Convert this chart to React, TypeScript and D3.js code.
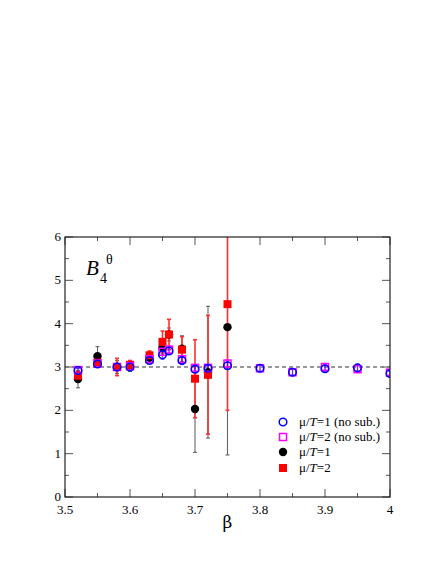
import React, { useRef, useEffect } from 'react';
import * as d3 from 'd3';

const betaA = [3.52, 3.55, 3.58, 3.6, 3.63, 3.65, 3.66, 3.68, 3.7, 3.72, 3.75];
const betaB = [3.52, 3.55, 3.58, 3.6, 3.63, 3.65, 3.66, 3.68, 3.7, 3.72, 3.75, 3.8, 3.85, 3.9, 3.95, 4.0];

const blueVal = [2.92, 3.07, 3.0, 3.0, 3.15, 3.28, 3.37, 3.15, 2.95, 2.97, 3.03, 2.97, 2.88, 2.96, 2.98, 2.85];
const blueErr = [0.05, 0.05, 0.05, 0.05, 0.05, 0.1, 0.08, 0.07, 0.07, 0.07, 0.08, 0.07, 0.07, 0.07, 0.08, 0.05];
const magVal = [2.93, 3.08, 3.0, 3.02, 3.18, 3.35, 3.4, 3.18, 2.98, 2.98, 3.08, 2.97, 2.88, 3.0, 2.95, 2.87];
const magErr = [0.05, 0.05, 0.05, 0.05, 0.05, 0.08, 0.08, 0.07, 0.07, 0.07, 0.08, 0.07, 0.07, 0.07, 0.08, 0.05];
const blackVal = [2.72, 3.25, 3.0, 3.0, 3.22, 3.45, 3.75, 3.42, 2.03, 2.88, 3.92];
const blackErr = [0.2, 0.22, 0.15, 0.1, 0.08, 0.15, 0.15, 0.3, 1.0, 1.52, 2.95];
const redVal = [2.8, 3.1, 3.0, 3.05, 3.27, 3.58, 3.75, 3.4, 2.73, 2.82, 4.45];
const redErr = [0.1, 0.1, 0.2, 0.1, 0.1, 0.25, 0.35, 0.3, 0.9, 1.37, 2.45];

const xTicks = [3.5, 3.6, 3.7, 3.8, 3.9, 4];
const yTicks = [0, 1, 2, 3, 4, 5, 6];

const App = () => {
  const ref = useRef(null);

  useEffect(() => {
    const svg = d3.select(ref.current);
    svg.selectAll('*').remove();

    const left = 65, right = 390, top = 237, bottom = 497;
    const x = d3.scaleLinear().domain([3.5, 4]).range([left, right]);
    const y = d3.scaleLinear().domain([0, 6]).range([bottom, top]);
    const font = "'DejaVu Serif', 'Liberation Serif', serif";
    const tfont = "'Liberation Serif', 'DejaVu Serif', serif";

    svg.append('defs').append('clipPath').attr('id', 'plotclip')
      .append('rect').attr('x', left).attr('y', top).attr('width', right - left).attr('height', bottom - top);

    // ticks
    const tickCol = '#555';
    const ax = svg.append('g');
    d3.range(3.5, 4.0001, 0.05).forEach((t, i) => {
      const len = i % 2 === 0 ? 8 : 4;
      ax.append('line').attr('x1', x(t)).attr('x2', x(t)).attr('y1', bottom).attr('y2', bottom - len).attr('stroke', tickCol);
      ax.append('line').attr('x1', x(t)).attr('x2', x(t)).attr('y1', top).attr('y2', top + len).attr('stroke', tickCol);
    });
    d3.range(0, 6.0001, 0.5).forEach((t, i) => {
      const len = i % 2 === 0 ? 8 : 4;
      ax.append('line').attr('y1', y(t)).attr('y2', y(t)).attr('x1', left).attr('x2', left + len).attr('stroke', tickCol);
      ax.append('line').attr('y1', y(t)).attr('y2', y(t)).attr('x1', right).attr('x2', right - len).attr('stroke', tickCol);
    });

    ax.selectAll('.xl').data(xTicks).enter().append('text')
      .attr('x', (d) => x(d)).attr('y', bottom + 17).attr('text-anchor', 'middle')
      .style('font-family', tfont).attr('font-size', 13).text((d) => (d === 4 ? '4' : d.toFixed(1)));
    ax.selectAll('.yl').data(yTicks).enter().append('text')
      .attr('x', left - 4).attr('y', (d) => y(d) + 4).attr('text-anchor', 'end')
      .style('font-family', tfont).attr('font-size', 13).text((d) => d);

    svg.append('text').attr('x', (left + right) / 2).attr('y', 528).attr('text-anchor', 'middle')
      .style('font-family', font).attr('font-size', 17).text('β');

    // dashed reference line
    svg.append('line').attr('x1', left).attr('x2', right).attr('y1', y(3)).attr('y2', y(3))
      .attr('stroke', '#777').attr('stroke-width', 1.3).attr('stroke-dasharray', '4,3');

    const plot = svg.append('g').attr('clip-path', 'url(#plotclip)');

    const errBars = (xs, vals, errs, col, op, w) => {
      const g = plot.append('g').attr('stroke', col).attr('stroke-opacity', op).attr('stroke-width', w);
      xs.forEach((b, i) => {
        const cx = x(b), y0 = y(vals[i] - errs[i]), y1 = y(vals[i] + errs[i]);
        g.append('line').attr('x1', cx).attr('x2', cx).attr('y1', y0).attr('y2', y1);
        g.append('line').attr('x1', cx - 2).attr('x2', cx + 2).attr('y1', y0).attr('y2', y0);
        g.append('line').attr('x1', cx - 2).attr('x2', cx + 2).attr('y1', y1).attr('y2', y1);
      });
    };
    errBars(betaA, blackVal, blackErr, '#555', 0.9, 1.1);
    errBars(betaA, redVal, redErr, '#ff3030', 1, 1.6);
    errBars(betaB, magVal, magErr, '#ff00ff', 0.6, 1.2);
    errBars(betaB, blueVal, blueErr, '#0000ff', 0.6, 1.2);

    betaA.forEach((b, i) => {
      plot.append('circle').attr('cx', x(b)).attr('cy', y(blackVal[i])).attr('r', 4.2).attr('fill', 'black');
    });
    betaA.forEach((b, i) => {
      plot.append('rect').attr('x', x(b) - 4).attr('y', y(redVal[i]) - 4).attr('width', 8).attr('height', 8).attr('fill', '#ff0000');
    });
    betaB.forEach((b, i) => {
      plot.append('rect').attr('x', x(b) - 3.5).attr('y', y(magVal[i]) - 3.5).attr('width', 7).attr('height', 7)
        .attr('fill', 'none').attr('stroke', '#ff00ff').attr('stroke-width', 1.5);
    });
    betaB.forEach((b, i) => {
      plot.append('circle').attr('cx', x(b)).attr('cy', y(blueVal[i])).attr('r', 3.8)
        .attr('fill', 'none').attr('stroke', '#0000ff').attr('stroke-width', 1.5);
    });

    // frame
    svg.append('rect').attr('x', left).attr('y', top).attr('width', right - left).attr('height', bottom - top)
      .attr('fill', 'none').attr('stroke', '#222').attr('stroke-width', 1.2);

    // label B_4^theta
    const lab = svg.append('text').style('font-family', tfont);
    lab.append('tspan').attr('x', 86).attr('y', 275).attr('font-size', 21).attr('font-style', 'italic').text('B');
    lab.append('tspan').attr('x', 100).attr('y', 283).attr('font-size', 14).text('4');
    lab.append('tspan').attr('x', 106).attr('y', 264).attr('font-size', 14).text('θ');

    // legend
    const leg = svg.append('g');
    const rows = [422, 437, 452, 468];
    const mx = 283;
    leg.append('circle').attr('cx', mx).attr('cy', rows[0]).attr('r', 3.8).attr('fill', 'none').attr('stroke', '#0000ff').attr('stroke-width', 1.5);
    leg.append('rect').attr('x', mx - 3.5).attr('y', rows[1] - 3.5).attr('width', 7).attr('height', 7).attr('fill', 'none').attr('stroke', '#ff00ff').attr('stroke-width', 1.5);
    leg.append('circle').attr('cx', mx).attr('cy', rows[2]).attr('r', 4.2).attr('fill', 'black');
    leg.append('rect').attr('x', mx - 4).attr('y', rows[3] - 4).attr('width', 8).attr('height', 8).attr('fill', '#ff0000');
    const labels = [['1', ' (no sub.)'], ['2', ' (no sub.)'], ['1', ''], ['2', '']];
    labels.forEach((l, i) => {
      const t = leg.append('text').attr('x', 299).attr('y', rows[i] + 4).style('font-family', tfont).attr('font-size', 13);
      t.append('tspan').text('μ/');
      t.append('tspan').attr('font-style', 'italic').text('T');
      t.append('tspan').text('=' + l[0] + l[1]);
    });
  }, []);

  return (
    <svg
      ref={ref}
      width={436}
      height={564}
      style={{ display: 'block', position: 'absolute', left: 0, top: 0 }}
    ></svg>
  );
};

export default App;
